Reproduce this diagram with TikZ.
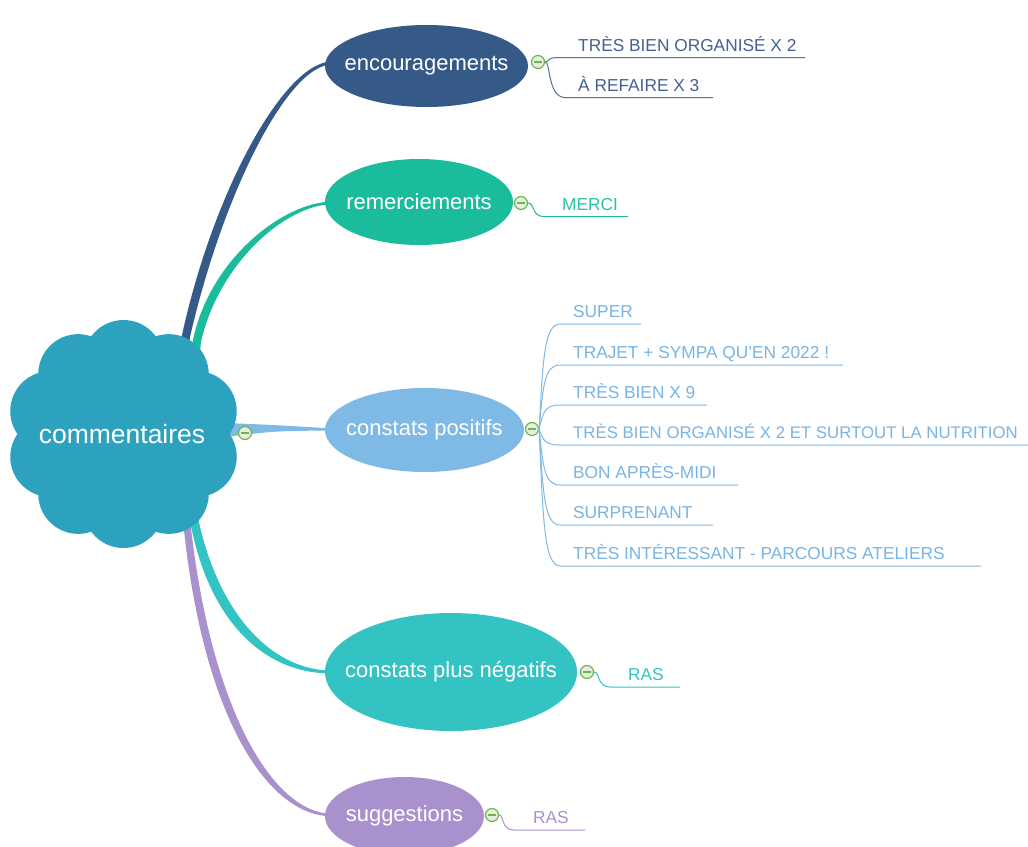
\documentclass[tikz,border=0pt]{standalone}
\usepackage{fontspec}
\setmainfont{Liberation Sans}
\usetikzlibrary{shapes.geometric,calc}
\definecolor{cloudc}{RGB}{45,162,190}
\definecolor{encc}{RGB}{54,90,136}
\definecolor{enct}{RGB}{70,96,145}
\definecolor{remc}{RGB}{27,188,155}
\definecolor{remt}{RGB}{40,196,166}
\definecolor{posc}{RGB}{127,185,230}
\definecolor{post}{RGB}{120,180,228}
\definecolor{negc}{RGB}{52,195,195}
\definecolor{sugc}{RGB}{169,145,206}
\definecolor{mkgreen}{RGB}{110,184,64}
\definecolor{mkfill}{RGB}{232,236,232}
\tikzset{
  topic/.style={ellipse, inner sep=0pt, text=white, font=\fontsize{22}{26}\selectfont},
  item/.style={anchor=base west, inner sep=0pt, font=\fontsize{17.3}{20}\selectfont},
  marker/.style={circle, draw=mkgreen, fill=mkfill, line width=1.2pt, minimum size=13pt, inner sep=0pt,
    path picture={\draw[mkgreen, line width=1.6pt] ([xshift=-3.6pt]path picture bounding box.center) -- ([xshift=3.6pt]path picture bounding box.center);}},
  sub/.style={line width=1pt},
}
\newcommand\zw[1]{\makebox[0pt]{#1}}
\begin{document}
\begin{tikzpicture}[x=1pt,y=-1pt]
\useasboundingbox (0,0) rectangle (1028,846);
\clip (0,0) rectangle (1028,846);
\fill[white] (0,0) rectangle (1028,846);

% coordinates for the branch ends
\coordinate (eEnc) at (332,63);
\coordinate (eRem) at (332,203);
\coordinate (ePos) at (332,429.5);
\coordinate (eNeg) at (332,672);
\coordinate (eSug) at (332,815);

% tapered main branches
\fill[encc] (175,385) -- (182,335) .. controls (214,189) and (285,61.5) .. ([yshift=1.5pt]eEnc)
  -- ([yshift=-1.5pt]eEnc) .. controls (288,64.5) and (223,193) .. (190,337) -- (184,386) -- cycle;
\fill[remc] (188,390) -- (193,340) .. controls (210,258) and (285,201.5) .. ([yshift=1.3pt]eRem)
  -- ([yshift=-1.3pt]eRem) .. controls (287,204.5) and (219,262) .. (201,342) -- (196,390) -- cycle;
\fill[posc] (225,423) .. controls (275,425) .. ([yshift=1pt]ePos) -- ([yshift=-1pt]ePos)
  .. controls (275,431) .. (225,437) -- cycle;
\fill[negc] (184,480) -- (189,515) .. controls (207,622) and (265,674) .. ([yshift=-1.4pt]eNeg)
  -- ([yshift=1.4pt]eNeg) .. controls (272,670.5) and (217,614) .. (197,513) -- (192,480) -- cycle;
\fill[sugc] (180,490) -- (184,530) .. controls (204,718) and (268,816.5) .. ([yshift=-1.2pt]eSug)
  -- ([yshift=1.2pt]eSug) .. controls (274,813.5) and (212,712) .. (191,528) -- (187,490) -- cycle;

% central cloud
\fill[cloudc] (123.5,434) circle[radius=85];
\foreach \a in {90,126,...,414} {
  \fill[cloudc] ($(123.5,434)+({77*cos(\a)},{-74*sin(\a)})$) circle[radius=40];
}
\node[text=white, font=\fontsize{26.5}{30}\selectfont, inner sep=0pt] (root) at (122,434) {commentaires};

% topics
\node[topic, fill=encc, minimum width=203pt, minimum height=82pt] (enc) at (426.5,66) {\zw{encouragements}};
\node[topic, fill=remc, minimum width=188pt, minimum height=86pt] (rem) at (419,202) {\zw{remerciements}};
\node[topic, fill=posc, minimum width=199pt, minimum height=84pt] (pos) at (424.5,430) {\zw{constats positifs}};
\node[topic, fill=negc, minimum width=252pt, minimum height=118pt] (neg) at (451,672) {\zw{constats plus négatifs}};
\node[topic, fill=sugc, minimum width=159pt, minimum height=78pt] (sug) at (404.5,816) {\zw{suggestions}};

% markers
\node[marker] (mroot) at (245,433) {};
\node[marker] (menc) at (538,62) {};
\node[marker] (mrem) at (521,203) {};
\node[marker] (mpos) at (532,429) {};
\node[marker] (mneg) at (587,672) {};
\node[marker] (msug) at (492,815) {};

% encouragements items
\node[item, text=enct] (e1) at (578,51) {TRÈS BIEN ORGANISÉ X 2};
\node[item, text=enct] (e2) at (578,91) {À REFAIRE X 3};
\coordinate (u1) at (805,57.7);
\coordinate (u2) at (713,97.7);
\draw[sub, encc!85] (menc.east) .. controls (549,62) and (547,57.7) .. (556,57.7) -- (u1);
\draw[sub, encc!85] (menc.east) .. controls (551,62) and (547,97.7) .. (566,97.7) -- (u2);

% remerciements item
\node[item, text=remt] (r1) at (562,210) {MERCI};
\coordinate (u3) at (628,216.7);
\draw[sub, remc] (mrem.east) .. controls (535,203) and (531,216.7) .. (545,216.7) -- (u3);

% constats positifs items
\node[item, text=post] (p1) at (573,317) {SUPER};
\node[item, text=post] (p2) at (573,358) {TRAJET + SYMPA QU'EN 2022 !};
\node[item, text=post] (p3) at (573,398) {TRÈS BIEN X 9};
\node[item, text=post, font=\fontsize{16.8}{20}\selectfont] (p4) at (573,438) {TRÈS BIEN ORGANISÉ X 2 ET SURTOUT LA NUTRITION};
\node[item, text=post] (p5) at (573,478) {BON APRÈS-MIDI};
\node[item, text=post] (p6) at (573,518) {SURPRENANT};
\node[item, text=post] (p7) at (573,559) {TRÈS INTÉRESSANT - PARCOURS ATELIERS};
\foreach \y/\xe/\n in {324/641/1, 365/843/2, 405/707/3, 445/1028/4, 485/738/5, 525/713/6, 566/981/7} {
  \coordinate (pu\n) at (\xe,\y);
  \draw[sub, posc] (mpos.east) .. controls (543,{\y+0.35*(429-\y)}) and (544,\y) .. (560,\y) -- (pu\n);
}

% constats plus negatifs item
\node[item, text=negc] (n1) at (628,680) {RAS};
\coordinate (u4) at (680,687);
\draw[sub, negc] (mneg.east) .. controls (600,672) and (597,687) .. (610,687) -- (u4);

% suggestions item
\node[item, text=sugc] (s1) at (533,823) {RAS};
\coordinate (u5) at (585,830);
\draw[sub, sugc] (msug.east) .. controls (504,815) and (501,830) .. (514,830) -- (u5);
\end{tikzpicture}
\end{document}
